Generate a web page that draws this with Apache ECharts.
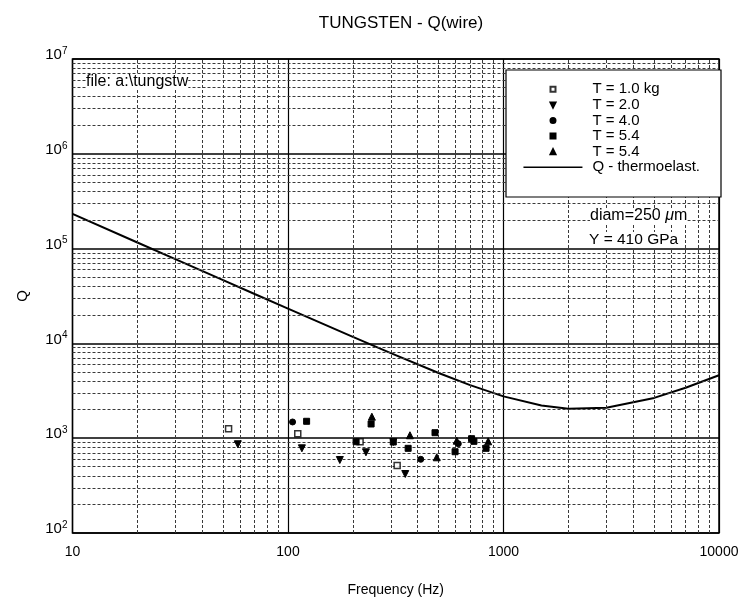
<!DOCTYPE html>
<html>
<head>
<meta charset="utf-8">
<title>TUNGSTEN - Q(wire)</title>
<script src="https://cdn.jsdelivr.net/npm/echarts@6/dist/echarts.min.js"></script>
<style>
  html, body { margin: 0; padding: 0; background: #fff; }
  #chart { width: 743px; height: 605px; }
</style>
</head>
<body>
<div id="chart"></div>
<script>
// Measured mechanical Q of a tungsten wire vs. resonance frequency, by wire tension
const freqT10 = [53, 111, 216, 321];
const qT10    = [1260, 1115, 918, 515];

const freqT20 = [58.5, 116, 174, 230, 308, 350];
const qT20    = [863, 782, 589, 710, 912, 419];

const freqT40 = [105, 413, 617];
const qT40    = [1483, 599, 875];

const freqT54a = [122, 207, 243, 308, 361, 481, 596, 711, 729, 830];
const qT54a    = [1508, 918, 1412, 912, 782, 1143, 720, 988, 927, 782];

const freqT54b = [245, 368, 490, 607, 849];
const qT54b    = [1686, 1074, 629, 941, 927];

// Thermoelastic damping limit
const thermoFreq = [10, 20, 30, 50, 70, 100, 200, 300, 500, 700, 1000, 1500, 2000, 3000, 5000, 7000, 10000];
const thermoQ    = [232000, 116000, 77500, 46500, 33200, 23300, 11700, 7900, 4870, 3630, 2760, 2210, 2040, 2090, 2660, 3410, 4620];

// Axis ticks
const freqTicks = [10, 100, 1000, 10000];
const qTicks = [100, 1000, 10000, 100000, 1000000, 10000000];

const markerKeys = ['t10', 't20', 't40', 't54a', 't54b'];
const markerLabels = ['T = 1.0 kg', 'T = 2.0', 'T = 4.0', 'T = 5.4', 'T = 5.4'];
const curveKey = 'thermo';
const curveLabel = 'Q - thermoelast.';

const zip = (xs, ys) => xs.map((x, i) => [x, ys[i]]);

// Log minor grid values (2..9 x 10^k) inside an axis range
function minorValues(lo, hi) {
  const out = [];
  for (let d = lo; d < hi; d *= 10) {
    for (let m = 2; m <= 9; m++) out.push(d * m);
  }
  return out;
}
const FONT = '"Liberation Sans", Arial, sans-serif';
const minorStyle = { color: '#3a3a3a', width: 1, type: [3, 2] };
const legendText = { fontFamily: FONT, fontSize: 15, color: '#000', lineHeight: 15.6 };
const downTriangle = 'path://M0,0L10,0L5,10Z';

const chart = echarts.init(document.getElementById('chart'), null, { renderer: 'canvas' });

const scatterBase = {
  type: 'scatter',
  symbolSize: 6,
  itemStyle: { color: '#000', borderColor: '#000', borderWidth: 1, opacity: 1 },
  z: 5,
  silent: true
};

chart.setOption({
  animation: false,
  backgroundColor: '#fff',
  textStyle: { fontFamily: FONT },
  title: {
    text: 'TUNGSTEN - Q(wire)',
    left: 396, top: 10, textAlign: 'center',
    textStyle: { fontFamily: FONT, fontSize: 17, fontWeight: 'normal', color: '#000' }
  },
  grid: {
    left: 72.5, right: 24, top: 59, bottom: 72,
    show: true, borderColor: '#000', borderWidth: 1.5, backgroundColor: 'transparent'
  },
  legend: [
    {
      // marker entries
      left: 549.5, top: 81.5, orient: 'vertical', padding: 0,
      itemWidth: 5, itemHeight: 5, itemGap: 0, selectedMode: false, z: 12,
      data: markerKeys.map(k => k === 't20' ? { name: k, icon: downTriangle } : { name: k }),
      formatter: name => markerLabels[markerKeys.indexOf(name)],
      textStyle: Object.assign({ padding: [0, 0, 0, 32] }, legendText)
    },
    {
      // curve entry
      left: 522.7, top: 159.5, orient: 'vertical', padding: 0,
      itemWidth: 59, itemHeight: 6, itemGap: 0, selectedMode: false, z: 12,
      itemStyle: { color: 'rgba(0,0,0,0)', borderColor: 'rgba(0,0,0,0)', borderWidth: 0 },
      lineStyle: { color: '#000', width: 1.5 },
      data: [curveKey],
      formatter: () => curveLabel,
      textStyle: Object.assign({ padding: [0, 0, 0, 5] }, legendText)
    }
  ],
  xAxis: {
    type: 'log', logBase: 10, min: freqTicks[0], max: freqTicks[freqTicks.length - 1],
    name: 'Frequency (Hz)', nameLocation: 'middle', nameGap: 50,
    nameTextStyle: { fontFamily: FONT, fontSize: 14, color: '#000' },
    axisLine: { show: false }, axisTick: { show: false },
    axisLabel: {
      color: '#000', fontFamily: FONT, fontSize: 14, margin: 12,
      formatter: v => String(Math.round(v))
    },
    splitLine: { show: true, lineStyle: { color: '#000', width: 1.2 } }
  },
  yAxis: {
    type: 'log', logBase: 10, min: qTicks[0], max: qTicks[qTicks.length - 1],
    name: 'Q', nameLocation: 'middle', nameGap: 42, nameRotate: 90,
    nameTextStyle: { fontFamily: FONT, fontSize: 15, color: '#000' },
    axisLine: { show: false }, axisTick: { show: false },
    axisLabel: {
      color: '#000', margin: 5, verticalAlign: 'middle', padding: [0, 0, 8, 0],
      formatter: v => '{b|10}{s|' + Math.round(Math.log10(v)) + '}',
      rich: {
        b: { fontFamily: FONT, fontSize: 15, color: '#000', lineHeight: 18 },
        s: { fontFamily: FONT, fontSize: 10, color: '#000', lineHeight: 10, verticalAlign: 'top' }
      }
    },
    splitLine: { show: true, lineStyle: { color: '#000', width: 1.5 } }
  },
  graphic: [
    {
      // legend frame
      type: 'rect', z: 11,
      shape: { x: 506, y: 70, width: 215, height: 127 },
      style: { fill: '#fff', stroke: '#000', lineWidth: 1.2 }
    },
    {
      type: 'text', left: 86, top: 74, z: 10,
      style: { text: 'file: a:\\tungstw', font: '16px ' + FONT, fill: '#000', backgroundColor: '#fff' }
    },
    {
      type: 'text', left: 590, top: 208, z: 10,
      style: {
        text: '{n|diam=250 }{g|\u03bc}{n|m}',
        rich: {
          n: { font: '16px ' + FONT, fill: '#000' },
          g: { font: 'italic 16px ' + FONT, fill: '#000' }
        },
        backgroundColor: '#fff'
      }
    },
    {
      type: 'text', left: 589, top: 232, z: 10,
      style: { text: 'Y = 410 GPa', font: '15.5px ' + FONT, fill: '#000', backgroundColor: '#fff' }
    }
  ],
  series: [
    {
      // minor log gridlines
      name: 'grid-minor', type: 'line', data: [], silent: true, z: 1,
      markLine: {
        silent: true, symbol: 'none', label: { show: false },
        lineStyle: minorStyle, animation: false,
        data: minorValues(freqTicks[0], freqTicks[freqTicks.length - 1]).map(v => ({ xAxis: v }))
          .concat(minorValues(qTicks[0], qTicks[qTicks.length - 1]).map(v => ({ yAxis: v })))
      }
    },
    Object.assign({}, scatterBase, {
      name: 't10', symbol: 'rect', data: zip(freqT10, qT10),
      itemStyle: { color: '#fff', borderColor: '#000', borderWidth: 1.5 }
    }),
    Object.assign({}, scatterBase, {
      name: 't20', symbol: 'triangle', symbolRotate: 180, symbolSize: 7, data: zip(freqT20, qT20)
    }),
    Object.assign({}, scatterBase, {
      name: 't40', symbol: 'circle', data: zip(freqT40, qT40)
    }),
    Object.assign({}, scatterBase, {
      name: 't54a', symbol: 'rect', data: zip(freqT54a, qT54a)
    }),
    Object.assign({}, scatterBase, {
      name: 't54b', symbol: 'triangle', symbolSize: 7, data: zip(freqT54b, qT54b)
    }),
    {
      name: curveKey, type: 'line', data: zip(thermoFreq, thermoQ),
      showSymbol: false, symbol: 'none', smooth: false, z: 4, silent: true,
      lineStyle: { color: '#000', width: 2 }, itemStyle: { color: '#000' }
    }
  ]
});
</script>
</body>
</html>
